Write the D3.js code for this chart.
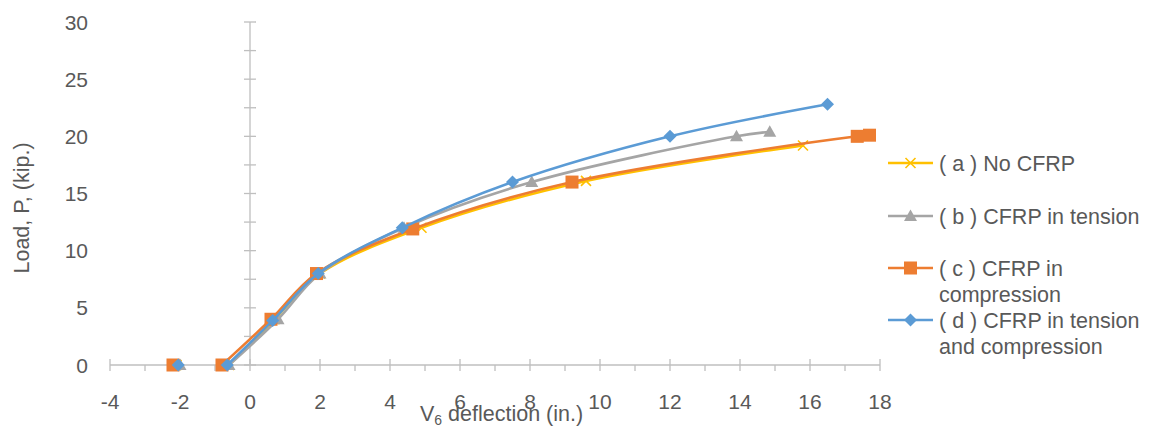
<!DOCTYPE html>
<html>
<head>
<meta charset="utf-8">
<script src="https://cdn.jsdelivr.net/npm/d3@7/dist/d3.min.js"></script>
<style>
  html, body { margin: 0; padding: 0; background: #fff; }
  svg { display: block; font-family: "Liberation Sans", Arial, sans-serif; }
</style>
</head>
<body>
<svg id="chart" width="1156" height="430"></svg>
<script>
// Load–deflection curves for four CFRP strengthening arrangements
const seriesLabels = [
  ["( a ) No CFRP"],
  ["( b ) CFRP in tension"],
  ["( c ) CFRP in", "compression"],
  ["( d ) CFRP in tension", "and compression"]
];
const seriesColors = ["#FFC000", "#A5A5A5", "#ED7D31", "#5B9BD5"];
const seriesMarkers = ["cross", "triangle", "square", "diamond"];

// V6 deflection (in.)
const deflA = [-2.1, -0.6, 0.7, 2.0, 4.9, 9.6, 15.8];
const deflB = [-2.0, -0.6, 0.8, 2.0, 4.4, 8.05, 13.9, 14.85];
const deflC = [-2.2, -0.8, 0.6, 1.9, 4.65, 9.2, 17.35, 17.7];
const deflD = [-2.05, -0.65, 0.65, 1.95, 4.35, 7.5, 12.0, 16.5];

// Load P (kip.)
const loadA = [0, 0, 4, 8, 12.0, 16.1, 19.2];
const loadB = [0, 0, 4, 8, 12, 16, 20, 20.4];
const loadC = [0, 0, 4, 8, 11.9, 16, 20, 20.1];
const loadD = [0, 0, 3.9, 8, 12, 16, 20, 22.8];

const xTicks = [-4, -2, 0, 2, 4, 6, 8, 10, 12, 14, 16, 18];
const yTicks = [0, 5, 10, 15, 20, 25, 30];

const deflections = [deflA, deflB, deflC, deflD];
const loads = [loadA, loadB, loadC, loadD];

const svg = d3.select("#chart");
const textColor = "#595959";
const axisColor = "#BFBFBF";
const tickFont = 21;
const labelFont = 21.5;

const x = d3.scaleLinear().domain([-4, 18]).range([110, 880]);
const y = d3.scaleLinear().domain([0, 30]).range([365, 22]);

// ---- axes (crossing at the origin) ----
const axes = svg.append("g");

// horizontal axis line with ticks every inch
axes.append("line")
  .attr("x1", x(-4)).attr("x2", x(18))
  .attr("y1", y(0)).attr("y2", y(0))
  .attr("stroke", axisColor).attr("stroke-width", 1.3);
d3.range(-4, 19, 1).forEach(v => {
  const major = v % 2 === 0;
  axes.append("line")
    .attr("x1", x(v)).attr("x2", x(v))
    .attr("y1", y(0) - (major ? 6 : 0)).attr("y2", y(0) + 6)
    .attr("stroke", axisColor).attr("stroke-width", 1.3);
});

// vertical axis line at zero deflection, ticks every 2.5 kip
axes.append("line")
  .attr("x1", x(0)).attr("x2", x(0))
  .attr("y1", y(0)).attr("y2", y(30))
  .attr("stroke", axisColor).attr("stroke-width", 1.3);
d3.range(0, 30.1, 2.5).forEach(v => {
  axes.append("line")
    .attr("x1", x(0) - 6).attr("x2", x(0) + 6)
    .attr("y1", y(v)).attr("y2", y(v))
    .attr("stroke", axisColor).attr("stroke-width", 1.3);
});

// tick labels sit at the low edge of the plot area
axes.selectAll(".xl").data(xTicks).enter().append("text")
  .attr("x", d => x(d)).attr("y", 409)
  .attr("text-anchor", "middle")
  .attr("fill", textColor).attr("font-size", tickFont)
  .text(d => d);

axes.selectAll(".yl").data(yTicks).enter().append("text")
  .attr("x", 88).attr("y", d => y(d) + 7.5)
  .attr("text-anchor", "end")
  .attr("fill", textColor).attr("font-size", tickFont)
  .text(d => d);

// axis titles
const xt = svg.append("text")
  .attr("x", 420).attr("y", 421)
  .attr("fill", textColor).attr("font-size", labelFont);
xt.append("tspan").text("V");
xt.append("tspan").attr("dy", 4).attr("font-size", 14).text("6");
xt.append("tspan").attr("dy", -4).text(" deflection (in.)");

svg.append("text")
  .attr("transform", `translate(29,208) rotate(-90)`)
  .attr("text-anchor", "middle")
  .attr("fill", textColor).attr("font-size", labelFont)
  .text("Load, P, (kip.)");

// ---- markers ----
function drawMarker(g, kind, cx, cy, color) {
  if (kind === "cross") {
    const s = 5;
    g.append("path")
      .attr("d", `M${cx - s},${cy - s}L${cx + s},${cy + s}M${cx - s},${cy + s}L${cx + s},${cy - s}`)
      .attr("stroke", color).attr("stroke-width", 1.6).attr("fill", "none");
  } else if (kind === "triangle") {
    const s = 6.5;
    g.append("path")
      .attr("d", `M${cx},${cy - s}L${cx + s},${cy + s * 0.75}L${cx - s},${cy + s * 0.75}Z`)
      .attr("fill", color);
  } else if (kind === "square") {
    const s = 6.5;
    g.append("rect")
      .attr("x", cx - s).attr("y", cy - s)
      .attr("width", 2 * s).attr("height", 2 * s)
      .attr("fill", color);
  } else {
    const s = 6.5;
    g.append("path")
      .attr("d", `M${cx},${cy - s}L${cx + s},${cy}L${cx},${cy + s}L${cx - s},${cy}Z`)
      .attr("fill", color);
  }
}

// ---- series: smoothed lines; the first reading is a lone marker ----
const line = d3.line()
  .defined((d, i) => i > 0)
  .x(d => x(d[0]))
  .y(d => y(d[1]))
  .curve(d3.curveCatmullRom.alpha(0.5));

deflections.forEach((defl, k) => {
  const pts = defl.map((v, i) => [v, loads[k][i]]);
  const g = svg.append("g");
  g.append("path")
    .datum(pts)
    .attr("d", line)
    .attr("fill", "none")
    .attr("stroke", seriesColors[k])
    .attr("stroke-width", 2.6)
    .attr("stroke-linecap", "round");
  pts.forEach(p => drawMarker(g, seriesMarkers[k], x(p[0]), y(p[1]), seriesColors[k]));
});

// ---- legend ----
const legendRows = [163, 216, 268, 320];
const legend = svg.append("g");
seriesLabels.forEach((lines, k) => {
  const cy = legendRows[k];
  legend.append("line")
    .attr("x1", 888).attr("x2", 933)
    .attr("y1", cy).attr("y2", cy)
    .attr("stroke", seriesColors[k]).attr("stroke-width", 2.6);
  drawMarker(legend, seriesMarkers[k], 910.5, cy, seriesColors[k]);
  lines.forEach((t, j) => {
    legend.append("text")
      .attr("x", 939).attr("y", cy + 7.5 + j * 26)
      .attr("fill", textColor).attr("font-size", labelFont)
      .text(t);
  });
});
</script>
</body>
</html>
